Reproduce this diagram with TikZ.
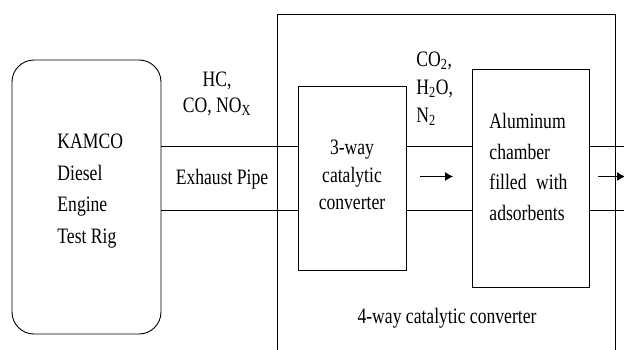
\documentclass[tikz,border=0pt]{standalone}
\usepackage{fontspec}
\setmainfont{Liberation Serif}[FakeStretch=0.8]
\usetikzlibrary{arrows.meta}
\begin{document}
\begin{tikzpicture}[x=1pt,y=-1pt,line width=0.9pt,
  box/.style={draw,inner sep=0pt},
  txt/.style={inner sep=0pt,font=\fontsize{22}{30}\selectfont},
  flow/.style={-{Latex[length=8pt,width=9pt]}}]
\useasboundingbox (0,0) rectangle (624,350);
% boxes
\node[box,rounded corners=22pt,minimum width=149pt,minimum height=274pt] (eng) at (86.5,197) {};
\node[box,minimum width=108pt,minimum height=184pt] (three) at (352,178) {};
\node[box,minimum width=117pt,minimum height=218pt] (al) at (530.5,178) {};
% 4-way enclosure (open at bottom)
\coordinate (fwBL) at (277,370);
\coordinate (fwTL) at (277,14);
\coordinate (fwTR) at (615.5,14);
\coordinate (fwBR) at (615.5,370);
\draw (fwBL) -- (fwTL) -- (fwTR) -- (fwBR);
% pipes
\coordinate (pipeT) at (0,146);
\coordinate (pipeB) at (0,210);
\coordinate (outT) at (630,146);
\coordinate (outB) at (630,210);
\draw (eng.east |- pipeT) -- (three.west |- pipeT);
\draw (eng.east |- pipeB) -- (three.west |- pipeB);
\draw (three.east |- pipeT) -- (al.west |- pipeT);
\draw (three.east |- pipeB) -- (al.west |- pipeB);
\draw (al.east |- pipeT) -- (outT);
\draw (al.east |- pipeB) -- (outB);
% flow arrows
\coordinate (a1s) at (420,176.5);
\coordinate (a1e) at (453,176.5);
\coordinate (a2s) at (598,176.5);
\coordinate (a2e) at (625,176.5);
\draw[flow] (a1s) -- (a1e);
\draw[flow] (a2s) -- (a2e);
% texts
\node[txt,align=left,font=\fontsize{22}{31.5}\selectfont,anchor=west] (engtxt) at (57,191) {KAMCO\\Diesel\\Engine\\Test Rig};
\node[txt,align=center,font=\fontsize{22}{26}\selectfont] (gasin) at (217,94) {HC,\\CO, NO\textsubscript{X}};
\node[txt] (pipetxt) at (222,179) {Exhaust Pipe};
\node[txt,align=center,font=\fontsize{22}{27.5}\selectfont] (threetxt) at (352,175) {3-way\\catalytic\\converter};
\node[txt,align=left,font=\fontsize{22}{28}\selectfont,anchor=west] (gasout) at (416,89) {CO\textsubscript{2},\\H\textsubscript{2}O,\\N\textsubscript{2}};
\node[txt,align=left,font=\fontsize{22}{30.5}\selectfont,anchor=west] (altxt) at (489,167) {Aluminum\\chamber\\\makebox[78pt][s]{filled with}\\adsorbents};
\node[txt] (fwtxt) at (447,318) {4-way catalytic converter};
\end{tikzpicture}
\end{document}
